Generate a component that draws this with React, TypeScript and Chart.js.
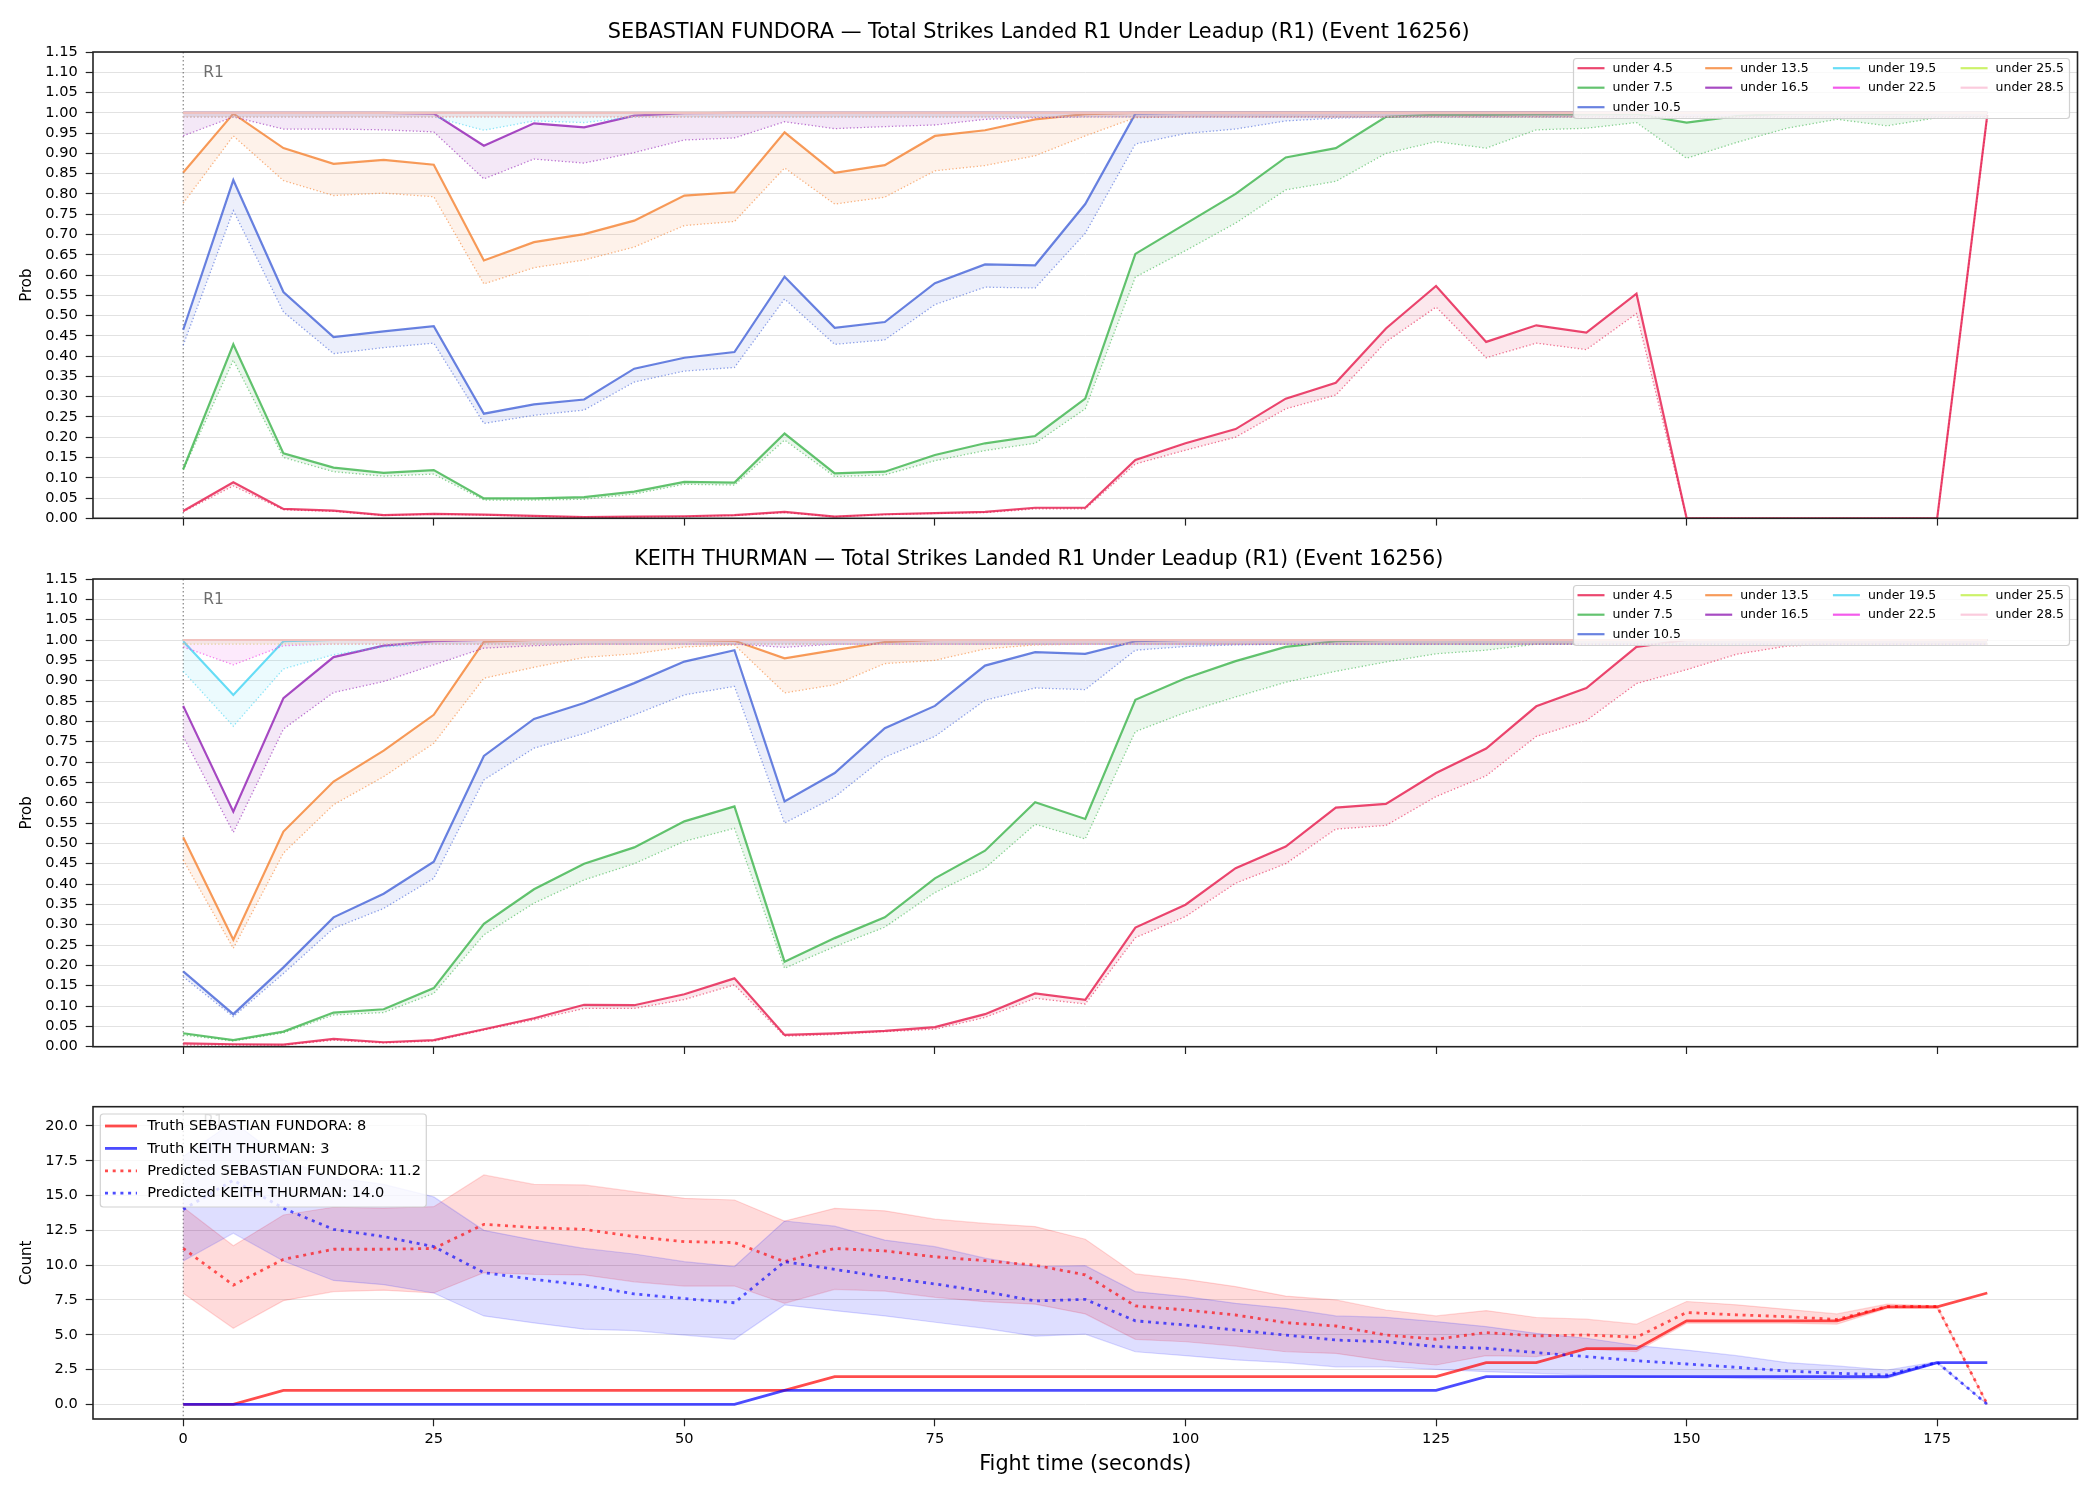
import React, { useEffect, useRef } from "react";
import { Chart, registerables } from "chart.js";

Chart.register(...registerables);

const FONT = '"DejaVu Sans", sans-serif';
Chart.defaults.font.family = FONT;
Chart.defaults.color = "#000";

const FIGHTER_A = "SEBASTIAN FUNDORA";
const FIGHTER_B = "KEITH THURMAN";
const TITLE_SUFFIX = "Total Strikes Landed R1 Under Leadup (R1) (Event 16256)";
const ROUND_LABEL = "R1";

const TIMES = [0, 5, 10, 15, 20, 25, 30, 35, 40, 45, 50, 55, 60, 65, 70, 75, 80, 85, 90, 95, 100, 105, 110, 115, 120, 125, 130, 135, 140, 145, 150, 155, 160, 165, 170, 175, 180];
const TIME_TICKS = [0, 25, 50, 75, 100, 125, 150, 175];
const PROB_TICKS = [0, 0.05, 0.1, 0.15, 0.2, 0.25, 0.3, 0.35, 0.4, 0.45, 0.5, 0.55, 0.6, 0.65, 0.7, 0.75, 0.8, 0.85, 0.9, 0.95, 1.0, 1.05, 1.1, 1.15];
const COUNT_TICKS = [0, 2.5, 5, 7.5, 10, 12.5, 15, 17.5, 20];

type RGB = [number, number, number];
const THRESHOLD_LABELS = ["under 4.5", "under 7.5", "under 10.5", "under 13.5", "under 16.5", "under 19.5", "under 22.5", "under 25.5", "under 28.5"];
const THRESHOLD_COLORS: RGB[] = [
  [230, 25, 75], [60, 180, 75], [67, 99, 216], [245, 130, 49], [145, 30, 180],
  [66, 212, 244], [240, 50, 230], [191, 239, 69], [250, 190, 212],
];

// ---- SEBASTIAN FUNDORA (solid = line, _LO = dotted lower) ----
const F_U45 = [0.018, 0.089, 0.023, 0.019, 0.008, 0.011, 0.009, 0.006, 0.003, 0.004, 0.005, 0.008, 0.016, 0.004, 0.010, 0.013, 0.016, 0.026, 0.026, 0.144, 0.185, 0.220, 0.295, 0.334, 0.468, 0.573, 0.435, 0.476, 0.458, 0.554, 0, 0, 0, 0, 0, 0, 0.995];
const F_U45_LO = [0.016, 0.080, 0.021, 0.017, 0.007, 0.010, 0.008, 0.005, 0.003, 0.003, 0.004, 0.007, 0.014, 0.004, 0.009, 0.012, 0.014, 0.023, 0.023, 0.134, 0.168, 0.200, 0.270, 0.304, 0.435, 0.521, 0.396, 0.432, 0.416, 0.505, 0, 0, 0, 0, 0, 0, 0.990];
const F_U75 = [0.121, 0.429, 0.160, 0.125, 0.112, 0.119, 0.049, 0.049, 0.052, 0.066, 0.090, 0.088, 0.209, 0.111, 0.115, 0.156, 0.185, 0.203, 0.295, 0.652, 0.726, 0.800, 0.890, 0.913, 0.990, 0.995, 0.995, 0.996, 0.996, 0.997, 0.976, 0.992, 0.998, 0.999, 0.998, 0.999, 1.000];
const F_U75_LO = [0.119, 0.390, 0.150, 0.115, 0.104, 0.109, 0.045, 0.045, 0.047, 0.060, 0.084, 0.082, 0.193, 0.103, 0.107, 0.142, 0.167, 0.185, 0.270, 0.595, 0.660, 0.728, 0.810, 0.831, 0.900, 0.929, 0.913, 0.958, 0.962, 0.976, 0.888, 0.927, 0.962, 0.984, 0.968, 0.988, 0.990];
const F_U105 = [0.465, 0.834, 0.558, 0.447, 0.461, 0.474, 0.258, 0.281, 0.293, 0.369, 0.396, 0.410, 0.596, 0.470, 0.484, 0.580, 0.626, 0.624, 0.775, 0.998, 1, 1, 1, 1, 1, 1, 1, 1, 1, 1, 1, 1, 1, 1, 1, 1, 1];
const F_U105_LO = [0.427, 0.759, 0.509, 0.406, 0.421, 0.432, 0.234, 0.254, 0.267, 0.336, 0.363, 0.372, 0.541, 0.429, 0.440, 0.527, 0.570, 0.568, 0.703, 0.923, 0.949, 0.960, 0.980, 0.987, 0.990, 0.990, 0.990, 0.990, 0.990, 0.990, 0.990, 0.990, 0.990, 0.990, 0.990, 0.990, 0.990];
const F_U135 = [0.853, 0.998, 0.913, 0.874, 0.884, 0.872, 0.636, 0.681, 0.701, 0.734, 0.796, 0.804, 0.952, 0.852, 0.871, 0.943, 0.957, 0.984, 0.997, 1, 1, 1, 1, 1, 1, 1, 1, 1, 1, 1, 1, 1, 1, 1, 1, 1, 1];
const F_U135_LO = [0.777, 0.943, 0.833, 0.796, 0.802, 0.793, 0.578, 0.618, 0.637, 0.669, 0.722, 0.732, 0.864, 0.775, 0.792, 0.857, 0.870, 0.894, 0.943, 0.988, 0.99, 0.99, 0.99, 0.99, 0.99, 0.99, 0.99, 0.99, 0.99, 0.99, 0.99, 0.99, 0.99, 0.99, 0.99, 0.99, 0.99];
const F_U165 = [1, 1, 1, 1, 1, 0.998, 0.919, 0.974, 0.964, 0.993, 0.999, 1, 1, 1, 1, 1, 1, 1, 1, 1, 1, 1, 1, 1, 1, 1, 1, 1, 1, 1, 1, 1, 1, 1, 1, 1, 1];
const F_U165_LO = [0.943, 0.990, 0.960, 0.960, 0.958, 0.953, 0.837, 0.886, 0.876, 0.902, 0.933, 0.938, 0.978, 0.961, 0.966, 0.970, 0.984, 0.988, 0.99, 0.99, 0.99, 0.99, 0.99, 0.99, 0.99, 0.99, 0.99, 0.99, 0.99, 0.99, 0.99, 0.99, 0.99, 0.99, 0.99, 0.99, 0.99];
const F_U195 = [1, 1, 1, 1, 1, 1, 1, 1, 1, 1, 1, 1, 1, 1, 1, 1, 1, 1, 1, 1, 1, 1, 1, 1, 1, 1, 1, 1, 1, 1, 1, 1, 1, 1, 1, 1, 1];
const F_U195_LO = [0.99, 0.99, 0.99, 0.99, 0.99, 0.99, 0.957, 0.980, 0.976, 0.99, 0.99, 0.99, 0.99, 0.99, 0.99, 0.99, 0.99, 0.99, 0.99, 0.99, 0.99, 0.99, 0.99, 0.99, 0.99, 0.99, 0.99, 0.99, 0.99, 0.99, 0.99, 0.99, 0.99, 0.99, 0.99, 0.99, 0.99];
const F_U225 = [1, 1, 1, 1, 1, 1, 1, 1, 1, 1, 1, 1, 1, 1, 1, 1, 1, 1, 1, 1, 1, 1, 1, 1, 1, 1, 1, 1, 1, 1, 1, 1, 1, 1, 1, 1, 1];
const F_U225_LO = [0.99, 0.99, 0.99, 0.99, 0.99, 0.99, 0.99, 0.99, 0.99, 0.99, 0.99, 0.99, 0.99, 0.99, 0.99, 0.99, 0.99, 0.99, 0.99, 0.99, 0.99, 0.99, 0.99, 0.99, 0.99, 0.99, 0.99, 0.99, 0.99, 0.99, 0.99, 0.99, 0.99, 0.99, 0.99, 0.99, 0.99];
const F_U255 = [1, 1, 1, 1, 1, 1, 1, 1, 1, 1, 1, 1, 1, 1, 1, 1, 1, 1, 1, 1, 1, 1, 1, 1, 1, 1, 1, 1, 1, 1, 1, 1, 1, 1, 1, 1, 1];
const F_U255_LO = [0.99, 0.99, 0.99, 0.99, 0.99, 0.99, 0.99, 0.99, 0.99, 0.99, 0.99, 0.99, 0.99, 0.99, 0.99, 0.99, 0.99, 0.99, 0.99, 0.99, 0.99, 0.99, 0.99, 0.99, 0.99, 0.99, 0.99, 0.99, 0.99, 0.99, 0.99, 0.99, 0.99, 0.99, 0.99, 0.99, 0.99];
const F_U285 = [1, 1, 1, 1, 1, 1, 1, 1, 1, 1, 1, 1, 1, 1, 1, 1, 1, 1, 1, 1, 1, 1, 1, 1, 1, 1, 1, 1, 1, 1, 1, 1, 1, 1, 1, 1, 1];
const F_U285_LO = [0.99, 0.99, 0.99, 0.99, 0.99, 0.99, 0.99, 0.99, 0.99, 0.99, 0.99, 0.99, 0.99, 0.99, 0.99, 0.99, 0.99, 0.99, 0.99, 0.99, 0.99, 0.99, 0.99, 0.99, 0.99, 0.99, 0.99, 0.99, 0.99, 0.99, 0.99, 0.99, 0.99, 0.99, 0.99, 0.99, 0.99];

// ---- KEITH THURMAN ----
const K_U45 = [0.008, 0.006, 0.005, 0.019, 0.011, 0.016, 0.043, 0.070, 0.103, 0.102, 0.129, 0.168, 0.029, 0.033, 0.039, 0.048, 0.080, 0.131, 0.115, 0.293, 0.349, 0.439, 0.492, 0.588, 0.597, 0.673, 0.733, 0.837, 0.882, 0.983, 1, 1, 1, 1, 1, 1, 1];
const K_U45_LO = [0.004, 0.004, 0.004, 0.016, 0.009, 0.014, 0.041, 0.066, 0.094, 0.094, 0.116, 0.152, 0.026, 0.030, 0.037, 0.043, 0.072, 0.119, 0.105, 0.268, 0.320, 0.402, 0.450, 0.535, 0.544, 0.615, 0.666, 0.763, 0.802, 0.893, 0.927, 0.965, 0.985, 0.990, 0.990, 0.990, 0.990];
const K_U75 = [0.033, 0.016, 0.037, 0.084, 0.092, 0.144, 0.302, 0.387, 0.450, 0.490, 0.554, 0.591, 0.209, 0.267, 0.318, 0.414, 0.482, 0.601, 0.560, 0.853, 0.906, 0.948, 0.983, 0.997, 1, 1, 1, 1, 1, 1, 1, 1, 1, 1, 1, 1, 1];
const K_U75_LO = [0.029, 0.014, 0.034, 0.078, 0.084, 0.131, 0.275, 0.353, 0.410, 0.450, 0.505, 0.537, 0.193, 0.246, 0.294, 0.379, 0.439, 0.547, 0.511, 0.775, 0.822, 0.860, 0.896, 0.923, 0.946, 0.966, 0.975, 0.990, 0.990, 0.990, 0.99, 0.99, 0.99, 0.99, 0.99, 0.99, 0.99];
const K_U105 = [0.185, 0.080, 0.195, 0.318, 0.376, 0.455, 0.715, 0.806, 0.845, 0.894, 0.947, 0.975, 0.603, 0.673, 0.783, 0.838, 0.937, 0.970, 0.966, 0.997, 1, 1, 1, 1, 1, 1, 1, 1, 1, 1, 1, 1, 1, 1, 1, 1, 1];
const K_U105_LO = [0.172, 0.074, 0.180, 0.291, 0.340, 0.414, 0.656, 0.734, 0.770, 0.816, 0.865, 0.886, 0.550, 0.614, 0.712, 0.763, 0.852, 0.882, 0.878, 0.975, 0.984, 0.988, 0.99, 0.99, 0.99, 0.99, 0.99, 0.99, 0.99, 0.99, 0.99, 0.99, 0.99, 0.99, 0.99, 0.99, 0.99];
const K_U135 = [0.515, 0.263, 0.529, 0.652, 0.728, 0.816, 0.996, 1, 1, 1, 1, 0.998, 0.955, 0.975, 0.995, 1, 1, 1, 1, 1, 1, 1, 1, 1, 1, 1, 1, 1, 1, 1, 1, 1, 1, 1, 1, 1, 1];
const K_U135_LO = [0.459, 0.242, 0.476, 0.595, 0.664, 0.746, 0.906, 0.933, 0.957, 0.966, 0.983, 0.988, 0.870, 0.890, 0.942, 0.950, 0.978, 0.988, 0.99, 0.99, 0.99, 0.99, 0.99, 0.99, 0.99, 0.99, 0.99, 0.99, 0.99, 0.99, 0.99, 0.99, 0.99, 0.99, 0.99, 0.99, 0.99];
const K_U165 = [0.838, 0.578, 0.857, 0.958, 0.986, 0.997, 1, 1, 1, 1, 1, 1, 1, 1, 1, 1, 1, 1, 1, 1, 1, 1, 1, 1, 1, 1, 1, 1, 1, 1, 1, 1, 1, 1, 1, 1, 1];
const K_U165_LO = [0.763, 0.527, 0.781, 0.871, 0.898, 0.939, 0.980, 0.986, 0.99, 0.99, 0.99, 0.99, 0.982, 0.99, 0.99, 0.99, 0.99, 0.99, 0.99, 0.99, 0.99, 0.99, 0.99, 0.99, 0.99, 0.99, 0.99, 0.99, 0.99, 0.99, 0.99, 0.99, 0.99, 0.99, 0.99, 0.99, 0.99];
const K_U195 = [0.997, 0.865, 0.997, 1, 1, 1, 1, 1, 1, 1, 1, 1, 1, 1, 1, 1, 1, 1, 1, 1, 1, 1, 1, 1, 1, 1, 1, 1, 1, 1, 1, 1, 1, 1, 1, 1, 1];
const K_U195_LO = [0.923, 0.788, 0.929, 0.964, 0.983, 0.99, 0.99, 0.99, 0.99, 0.99, 0.99, 0.99, 0.99, 0.99, 0.99, 0.99, 0.99, 0.99, 0.99, 0.99, 0.99, 0.99, 0.99, 0.99, 0.99, 0.99, 0.99, 0.99, 0.99, 0.99, 0.99, 0.99, 0.99, 0.99, 0.99, 0.99, 0.99];
const K_U225 = [1, 1, 1, 1, 1, 1, 1, 1, 1, 1, 1, 1, 1, 1, 1, 1, 1, 1, 1, 1, 1, 1, 1, 1, 1, 1, 1, 1, 1, 1, 1, 1, 1, 1, 1, 1, 1];
const K_U225_LO = [0.983, 0.939, 0.986, 0.99, 0.99, 0.99, 0.99, 0.99, 0.99, 0.99, 0.99, 0.99, 0.99, 0.99, 0.99, 0.99, 0.99, 0.99, 0.99, 0.99, 0.99, 0.99, 0.99, 0.99, 0.99, 0.99, 0.99, 0.99, 0.99, 0.99, 0.99, 0.99, 0.99, 0.99, 0.99, 0.99, 0.99];
const K_U255 = [1, 1, 1, 1, 1, 1, 1, 1, 1, 1, 1, 1, 1, 1, 1, 1, 1, 1, 1, 1, 1, 1, 1, 1, 1, 1, 1, 1, 1, 1, 1, 1, 1, 1, 1, 1, 1];
const K_U255_LO = [0.99, 0.99, 0.99, 0.99, 0.99, 0.99, 0.99, 0.99, 0.99, 0.99, 0.99, 0.99, 0.99, 0.99, 0.99, 0.99, 0.99, 0.99, 0.99, 0.99, 0.99, 0.99, 0.99, 0.99, 0.99, 0.99, 0.99, 0.99, 0.99, 0.99, 0.99, 0.99, 0.99, 0.99, 0.99, 0.99, 0.99];
const K_U285 = [1, 1, 1, 1, 1, 1, 1, 1, 1, 1, 1, 1, 1, 1, 1, 1, 1, 1, 1, 1, 1, 1, 1, 1, 1, 1, 1, 1, 1, 1, 1, 1, 1, 1, 1, 1, 1];
const K_U285_LO = [0.99, 0.99, 0.99, 0.99, 0.99, 0.99, 0.99, 0.99, 0.99, 0.99, 0.99, 0.99, 0.99, 0.99, 0.99, 0.99, 0.99, 0.99, 0.99, 0.99, 0.99, 0.99, 0.99, 0.99, 0.99, 0.99, 0.99, 0.99, 0.99, 0.99, 0.99, 0.99, 0.99, 0.99, 0.99, 0.99, 0.99];

const F_LINES = [F_U45, F_U75, F_U105, F_U135, F_U165, F_U195, F_U225, F_U255, F_U285];
const F_LOWS = [F_U45_LO, F_U75_LO, F_U105_LO, F_U135_LO, F_U165_LO, F_U195_LO, F_U225_LO, F_U255_LO, F_U285_LO];
const K_LINES = [K_U45, K_U75, K_U105, K_U135, K_U165, K_U195, K_U225, K_U255, K_U285];
const K_LOWS = [K_U45_LO, K_U75_LO, K_U105_LO, K_U135_LO, K_U165_LO, K_U195_LO, K_U225_LO, K_U255_LO, K_U285_LO];

// ---- Counts ----
const TRUTH_A = [0, 0, 1, 1, 1, 1, 1, 1, 1, 1, 1, 1, 1, 2, 2, 2, 2, 2, 2, 2, 2, 2, 2, 2, 2, 2, 3, 3, 4, 4, 6, 6, 6, 6, 7, 7, 8];
const TRUTH_B = [0, 0, 0, 0, 0, 0, 0, 0, 0, 0, 0, 0, 1, 1, 1, 1, 1, 1, 1, 1, 1, 1, 1, 1, 1, 1, 2, 2, 2, 2, 2, 2, 2, 2, 2, 3, 3];
const PRED_A = [11.2, 8.57, 10.42, 11.14, 11.14, 11.2, 12.93, 12.7, 12.57, 12.05, 11.69, 11.62, 10.25, 11.2, 11.02, 10.6, 10.32, 10.0, 9.3, 7.07, 6.78, 6.42, 5.87, 5.63, 4.98, 4.68, 5.16, 4.92, 4.99, 4.82, 6.6, 6.43, 6.3, 6.1, 7.03, 7.03, 0];
const HI_A = [14.16, 11.4, 13.6, 14.16, 14.1, 14.2, 16.48, 15.8, 15.76, 15.28, 14.8, 14.68, 13.17, 14.08, 13.9, 13.3, 13.0, 12.77, 11.86, 9.37, 8.98, 8.46, 7.78, 7.5, 6.78, 6.35, 6.74, 6.24, 6.12, 5.76, 7.39, 7.15, 6.83, 6.5, 7.2, 7.07, 0];
const LO_A = [7.98, 5.46, 7.45, 8.1, 8.2, 8.0, 9.46, 9.34, 9.3, 8.8, 8.5, 8.5, 7.26, 8.26, 8.14, 7.69, 7.38, 7.2, 6.5, 4.67, 4.5, 4.19, 3.78, 3.66, 3.14, 2.83, 3.5, 3.43, 3.96, 3.79, 5.83, 5.83, 5.83, 5.76, 6.9, 6.9, 0];
const PRED_B = [14.0, 16.1, 14.08, 12.57, 12.05, 11.33, 9.46, 8.98, 8.57, 7.93, 7.6, 7.3, 10.25, 9.7, 9.13, 8.65, 8.1, 7.43, 7.54, 6.0, 5.7, 5.34, 4.98, 4.62, 4.5, 4.15, 4.03, 3.72, 3.43, 3.14, 2.9, 2.66, 2.4, 2.23, 2.11, 3.02, 0];
const HI_B = [17.8, 20.3, 17.56, 16.3, 15.8, 14.9, 12.5, 11.8, 11.2, 10.8, 10.25, 9.9, 13.17, 12.8, 11.8, 11.33, 10.5, 9.9, 9.96, 8.1, 7.74, 7.26, 6.9, 6.35, 6.25, 5.95, 5.59, 5.1, 4.75, 4.22, 3.9, 3.5, 3.0, 2.76, 2.47, 3.07, 0];
const LO_B = [10.3, 12.3, 10.3, 8.9, 8.6, 8.0, 6.35, 5.85, 5.4, 5.3, 4.98, 4.67, 7.14, 6.73, 6.35, 5.9, 5.46, 4.9, 5.05, 3.78, 3.5, 3.19, 3.0, 2.7, 2.7, 2.52, 2.35, 2.23, 2.11, 2.0, 1.94, 1.87, 1.8, 1.8, 1.87, 2.95, 0];

const RED: RGB = [255, 0, 0];
const BLUE: RGB = [0, 0, 255];

const X_MIN = -9;
const X_MAX = 189;
const PROB_MIN = 0;
const PROB_MAX = 1.15;
const COUNT_MIN = -1.05;
const COUNT_MAX = 21.38;
const R1_X = 2;
const R1_PROB_Y = 1.098;
const R1_COUNT_Y = 20.25;

function rgba(c: RGB, a: number) {
  return `rgba(${c[0]},${c[1]},${c[2]},${a})`;
}
function pts(arr: number[]) {
  return TIMES.map((t, i) => ({ x: t, y: arr[i] }));
}

function withOrder(ds: any[]) {
  ds.forEach((d, i) => (d.order = ds.length - i));
  return ds;
}

function probDatasets(lines: number[][], lows: number[][]) {
  const ds: any[] = [];
  lines.forEach((arr, k) => {
    const c = THRESHOLD_COLORS[k];
    ds.push({
      label: THRESHOLD_LABELS[k],
      data: pts(arr),
      borderColor: rgba(c, 0.8),
      borderWidth: 2.2,
      pointRadius: 0,
      fill: false,
      tension: 0,
    });
    ds.push({
      label: "_lo " + THRESHOLD_LABELS[k],
      data: pts(lows[k]),
      borderColor: rgba(c, 0.6),
      borderWidth: 1.3,
      borderDash: [1.3, 2.2],
      pointRadius: 0,
      fill: "-1",
      backgroundColor: rgba(c, 0.1),
      tension: 0,
    });
  });
  return withOrder(ds);
}

function countDatasets() {
  const ds: any[] = [
    { label: "_hiA", data: pts(HI_A), borderColor: rgba(RED, 0.15), borderWidth: 1.2, pointRadius: 0, fill: false },
    { label: "_loA", data: pts(LO_A), borderColor: rgba(RED, 0.15), borderWidth: 1.2, pointRadius: 0, fill: "-1", backgroundColor: rgba(RED, 0.14) },
    { label: "_hiB", data: pts(HI_B), borderColor: rgba(BLUE, 0.15), borderWidth: 1.2, pointRadius: 0, fill: false },
    { label: "_loB", data: pts(LO_B), borderColor: rgba(BLUE, 0.15), borderWidth: 1.2, pointRadius: 0, fill: "-1", backgroundColor: rgba(BLUE, 0.13) },
    { label: "truthA", data: pts(TRUTH_A), borderColor: rgba(RED, 0.7), borderWidth: 2.8, pointRadius: 0, fill: false },
    { label: "predA", data: pts(PRED_A), borderColor: rgba(RED, 0.65), borderWidth: 2.8, borderDash: [3, 4.7], pointRadius: 0, fill: false },
    { label: "truthB", data: pts(TRUTH_B), borderColor: rgba(BLUE, 0.7), borderWidth: 2.8, pointRadius: 0, fill: false },
    { label: "predB", data: pts(PRED_B), borderColor: rgba(BLUE, 0.65), borderWidth: 2.8, borderDash: [3, 4.7], pointRadius: 0, fill: false },
  ];
  return withOrder(ds);
}

function roundRectPath(ctx: CanvasRenderingContext2D, x: number, y: number, w: number, h: number, r: number) {
  ctx.beginPath();
  ctx.moveTo(x + r, y);
  ctx.lineTo(x + w - r, y);
  ctx.quadraticCurveTo(x + w, y, x + w, y + r);
  ctx.lineTo(x + w, y + h - r);
  ctx.quadraticCurveTo(x + w, y + h, x + w - r, y + h);
  ctx.lineTo(x + r, y + h);
  ctx.quadraticCurveTo(x, y + h, x, y + h - r);
  ctx.lineTo(x, y + r);
  ctx.quadraticCurveTo(x, y, x + r, y);
  ctx.closePath();
}

function legendBox(ctx: CanvasRenderingContext2D, x: number, y: number, w: number, h: number) {
  roundRectPath(ctx, x, y, w, h, 3);
  ctx.fillStyle = "rgba(255,255,255,0.8)";
  ctx.fill();
  ctx.strokeStyle = "rgba(204,204,204,0.9)";
  ctx.lineWidth = 1.2;
  ctx.setLineDash([]);
  ctx.stroke();
}

const PROB_LEGEND_COLS = [3, 2, 2, 2];

function drawProbLegend(ctx: CanvasRenderingContext2D, a: any) {
  const w = 496;
  const h = 60;
  const left = a.right - 8 - w;
  const top = a.top + 6.5;
  ctx.save();
  legendBox(ctx, left, top, w, h);
  ctx.font = `12.5px ${FONT}`;
  ctx.textBaseline = "middle";
  ctx.textAlign = "left";
  let k = 0;
  PROB_LEGEND_COLS.forEach((n, col) => {
    for (let row = 0; row < n; row++, k++) {
      const y = top + 9.7 + row * 19.5;
      const x0 = left + 4 + col * 127.7;
      ctx.strokeStyle = rgba(THRESHOLD_COLORS[k], 0.8);
      ctx.lineWidth = 2.2;
      ctx.setLineDash([]);
      ctx.beginPath();
      ctx.moveTo(x0, y);
      ctx.lineTo(x0 + 27, y);
      ctx.stroke();
      ctx.fillStyle = "#000";
      ctx.fillText(THRESHOLD_LABELS[k], x0 + 35, y + 0.5);
    }
  });
  ctx.restore();
}

function drawCountLegend(ctx: CanvasRenderingContext2D, a: any) {
  const items = [
    { label: `Truth ${FIGHTER_A}: ${TRUTH_A[TRUTH_A.length - 1]}`, c: RED, dash: [] as number[] },
    { label: `Truth ${FIGHTER_B}: ${TRUTH_B[TRUTH_B.length - 1]}`, c: BLUE, dash: [] as number[] },
    { label: `Predicted ${FIGHTER_A}: ${PRED_A[0].toFixed(1)}`, c: RED, dash: [3, 4.7] },
    { label: `Predicted ${FIGHTER_B}: ${PRED_B[0].toFixed(1)}`, c: BLUE, dash: [3, 4.7] },
  ];
  const w = 326;
  const h = 93;
  const left = a.left + 7.3;
  const top = a.top + 7.3;
  ctx.save();
  legendBox(ctx, left, top, w, h);
  ctx.font = `14.6px ${FONT}`;
  ctx.textBaseline = "middle";
  ctx.textAlign = "left";
  items.forEach((it, i) => {
    const y = top + 12 + i * 22.4;
    ctx.strokeStyle = rgba(it.c, 0.7);
    ctx.lineWidth = 2.8;
    ctx.setLineDash(it.dash);
    ctx.beginPath();
    ctx.moveTo(left + 4.7, y);
    ctx.lineTo(left + 36.7, y);
    ctx.stroke();
    ctx.setLineDash([]);
    ctx.fillStyle = "#000";
    ctx.fillText(it.label, left + 47, y + 0.5);
  });
  ctx.restore();
}

function overlayPlugin(r1Y: number, legend: (ctx: CanvasRenderingContext2D, a: any) => void) {
  return {
    id: "overlay",
    beforeDatasetsDraw(chart: any) {
      const { ctx, chartArea: a, scales } = chart;
      const px = scales.x.getPixelForValue(0);
      ctx.save();
      ctx.strokeStyle = "rgba(60,60,60,0.75)";
      ctx.lineWidth = 1;
      ctx.setLineDash([1.5, 2.5]);
      ctx.beginPath();
      ctx.moveTo(px, a.top);
      ctx.lineTo(px, a.bottom);
      ctx.stroke();
      ctx.restore();
    },
    afterDatasetsDraw(chart: any) {
      const { ctx, chartArea: a, scales } = chart;
      ctx.save();
      ctx.font = `15.5px ${FONT}`;
      ctx.fillStyle = "rgba(85,85,85,0.85)";
      ctx.textBaseline = "middle";
      ctx.textAlign = "left";
      ctx.fillText(ROUND_LABEL, scales.x.getPixelForValue(R1_X), scales.y.getPixelForValue(r1Y));
      ctx.restore();
      ctx.save();
      ctx.strokeStyle = "#222";
      ctx.lineWidth = 1.6;
      ctx.setLineDash([]);
      ctx.strokeRect(a.left, a.top, a.right - a.left, a.bottom - a.top);
      ctx.restore();
      legend(ctx, a);
    },
  };
}

function xScale(showLabels: boolean, height: number, title?: string) {
  return {
    type: "linear",
    min: X_MIN,
    max: X_MAX,
    afterBuildTicks: (s: any) => {
      s.ticks = TIME_TICKS.map((v) => ({ value: v }));
    },
    afterFit: (s: any) => {
      s.height = height;
      s.paddingLeft = 0;
      s.paddingRight = 0;
      s.paddingTop = 0;
      s.paddingBottom = 0;
    },
    grid: { drawOnChartArea: false, drawTicks: true, tickLength: 7.3, tickColor: "#222", tickWidth: 1.2 },
    border: { display: false },
    ticks: {
      display: showLabels,
      autoSkip: false,
      maxRotation: 0,
      padding: 4,
      font: { size: 14.6, family: FONT },
      color: "#000",
      callback: (v: any) => String(v),
    },
    title: title
      ? { display: true, text: title, font: { size: 20.8, family: FONT }, color: "#000", padding: { top: 0, bottom: 22.5 } }
      : { display: false },
  };
}

function yScale(min: number, max: number, ticks: number[], digits: number, title: string) {
  return {
    type: "linear",
    min,
    max,
    afterBuildTicks: (s: any) => {
      s.ticks = ticks.map((v) => ({ value: v }));
    },
    afterFit: (s: any) => {
      s.width = 93;
      s.paddingLeft = 0;
      s.paddingRight = 0;
      s.paddingTop = 0;
      s.paddingBottom = 0;
    },
    grid: { color: "#e2e2e2", lineWidth: 1, drawTicks: true, tickLength: 7.3, tickColor: "#222", tickWidth: 1.2 },
    border: { display: false },
    ticks: {
      autoSkip: false,
      padding: 8,
      font: { size: 14.6, family: FONT },
      color: "#000",
      callback: (v: any) => Number(v).toFixed(digits),
    },
    title: { display: true, text: title, font: { size: 15, family: FONT }, color: "#000", padding: { top: 18, bottom: 0 } },
  };
}

function probConfig(fighter: string, lines: number[][], lows: number[][], padTop: number, titleGap: number, xHeight: number): any {
  return {
    type: "line",
    data: { datasets: probDatasets(lines, lows) },
    options: {
      responsive: false,
      animation: false,
      devicePixelRatio: 1,
      events: [],
      layout: { padding: { top: padTop, left: 0, right: 22.5, bottom: 0 } },
      plugins: {
        legend: { display: false },
        tooltip: { enabled: false },
        title: {
          display: true,
          text: `${fighter} — ${TITLE_SUFFIX}`,
          font: { size: 20.8, family: FONT, weight: "normal" },
          color: "#000",
          padding: { top: 0, bottom: titleGap },
        },
      },
      scales: {
        x: xScale(false, xHeight),
        y: yScale(PROB_MIN, PROB_MAX, PROB_TICKS, 2, "Prob"),
      },
    },
    plugins: [overlayPlugin(R1_PROB_Y, drawProbLegend)],
  };
}

function countConfig(): any {
  return {
    type: "line",
    data: { datasets: countDatasets() },
    options: {
      responsive: false,
      animation: false,
      devicePixelRatio: 1,
      events: [],
      layout: { padding: { top: 46.7, left: 0, right: 22.5, bottom: 0 } },
      plugins: {
        legend: { display: false },
        tooltip: { enabled: false },
        title: { display: false },
      },
      scales: {
        x: xScale(true, 81, "Fight time (seconds)"),
        y: yScale(COUNT_MIN, COUNT_MAX, COUNT_TICKS, 1, "Count"),
      },
    },
    plugins: [overlayPlugin(R1_COUNT_Y, drawCountLegend)],
  };
}

export default function App() {
  const r1 = useRef<HTMLCanvasElement>(null);
  const r2 = useRef<HTMLCanvasElement>(null);
  const r3 = useRef<HTMLCanvasElement>(null);

  useEffect(() => {
    const charts = [
      new Chart(r1.current as HTMLCanvasElement, probConfig(FIGHTER_A, F_LINES, F_LOWS, 20.2, 6.84, 11.7)),
      new Chart(r2.current as HTMLCanvasElement, probConfig(FIGHTER_B, K_LINES, K_LOWS, 17.6, 6.44, 13.3)),
      new Chart(r3.current as HTMLCanvasElement, countConfig()),
    ];
    return () => charts.forEach((c) => c.destroy());
  }, []);

  return (
    <div style={{ position: "absolute", left: 0, top: 0, width: 2100, height: 1500, background: "#fff" }}>
      <canvas ref={r1} width={2100} height={530} style={{ position: "absolute", left: 0, top: 0 }} />
      <canvas ref={r2} width={2100} height={530} style={{ position: "absolute", left: 0, top: 530 }} />
      <canvas ref={r3} width={2100} height={440} style={{ position: "absolute", left: 0, top: 1060 }} />
    </div>
  );
}
